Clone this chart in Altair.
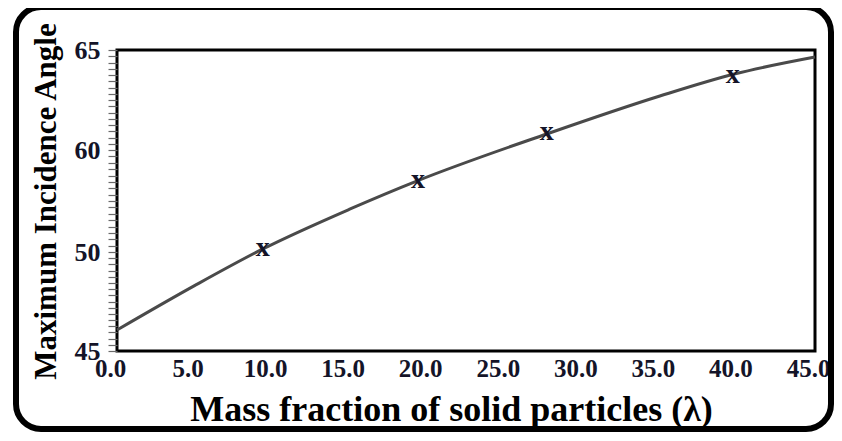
import altair as alt
import pandas as pd

# ---- data ----
lam_curve = [0, 5, 9.4, 15, 19.4, 27.7, 35, 39.8, 45]
angle_curve = [46.06, 48.3, 50.3, 54.2, 57.0, 60.8, 62.7, 63.8, 64.65]

lam_pts = [9.4, 19.4, 27.7, 39.7]
angle_pts = [50.2, 56.9, 60.8, 63.65]

x_tick_values = [0, 5, 10, 15, 20, 25, 30, 35, 40, 45]
y_label_values = [45, 50, 60, 65]

# ---- layout ----
W, H = 698, 301
SERIF = "Liberation Serif"
INK = "#141428"

# minor tick positions on the (non-uniform) y axis
minor = ([round(45 + i * 5 / 16, 4) for i in range(16)]
         + [round(50 + i * 10 / 16, 4) for i in range(16)]
         + [round(60 + i * 5 / 16, 4) for i in range(17)])

curve_df = pd.DataFrame({"lam": lam_curve, "angle": angle_curve})
pts_df = pd.DataFrame({"lam": lam_pts, "angle": angle_pts, "mk": ["x"] * len(lam_pts)})

x_scale = alt.Scale(domain=[0, 45], nice=False, zero=False)
y_scale = alt.Scale(domain=y_label_values, range=[H, 202, 100, 0], nice=False, zero=False)

x_axis = alt.Axis(
    values=x_tick_values, format=".1f", ticks=False, domain=False, grid=False,
    labelFont=SERIF, labelFontWeight="bold", labelFontSize=25, labelColor=INK,
    labelPadding=5, labelOffset=-7, labelFlush=False, labelOverlap=False,
    title="Mass fraction of solid particles (λ)",
    titleFont=SERIF, titleFontWeight="bold", titleFontSize=36, titleColor="#000",
    titleX=334, titleY=69, titleAlign="center", titleBaseline="alphabetic",
)
y_axis = alt.Axis(
    values=minor, tickCount=200, domain=False, grid=False,
    ticks=True, tickSize=9, tickColor="#6a6a6a", tickWidth=1.2,
    labelExpr="indexof([45, 50, 60, 65], datum.value) >= 0 ? '' + datum.value : ''",
    labelFont=SERIF, labelFontWeight="bold", labelFontSize=26, labelColor=INK,
    labelPadding=8, labelOverlap=False, labelFlush=False,
    title="Maximum Incidence Angle",
    titleFont=SERIF, titleFontWeight="bold", titleFontSize=31, titleColor="#000",
    titleX=-62, titleY=151, titleAngle=-90, titleAlign="center", titleBaseline="alphabetic",
)

curve = alt.Chart(curve_df).mark_line(
    color="#4a4a4a", strokeWidth=3, interpolate="monotone"
).encode(
    x=alt.X("lam:Q", scale=x_scale, axis=x_axis),
    y=alt.Y("angle:Q", scale=y_scale, axis=y_axis),
)

marks = alt.Chart(pts_df).mark_text(
    font=SERIF, fontWeight="bold", fontSize=28, color=INK,
    baseline="alphabetic", align="center", dy=6,
).encode(
    x=alt.X("lam:Q", scale=x_scale),
    y=alt.Y("angle:Q", scale=y_scale),
    text="mk:N",
)

frame = alt.Chart(pd.DataFrame({"a": [0]})).mark_rect(
    fill=None, stroke="#000", strokeWidth=6, cornerRadius=25, clip=False,
).encode(
    x=alt.value(-101), x2=alt.value(714), y=alt.value(-43), y2=alt.value(379),
)

chart = alt.layer(curve, marks, frame).properties(
    width=W, height=H,
    autosize=alt.AutoSizeParams(type="none"),
    padding={"left": 109, "top": 42, "right": 19, "bottom": 82},
    background="white",
).configure_view(
    stroke="#000", strokeWidth=3,
)

chart.save("out.html", embed_options={"renderer": "svg", "actions": False})
